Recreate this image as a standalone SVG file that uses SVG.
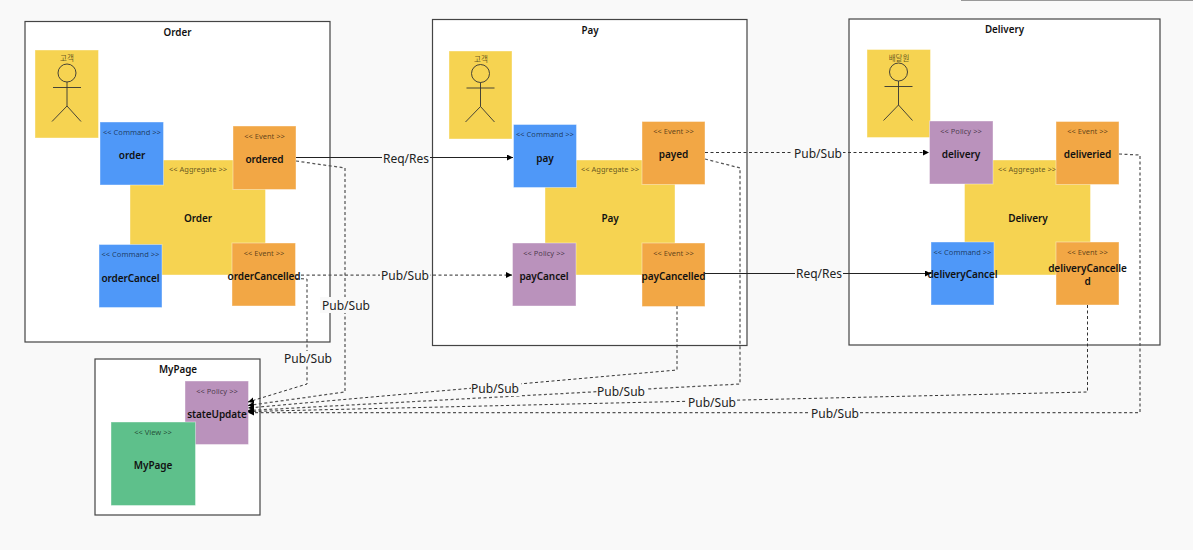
<svg xmlns="http://www.w3.org/2000/svg" width="1193" height="550" viewBox="0 0 1193 550">
<style>
text{font-family:"Noto Sans","Open Sans","Noto Sans CJK KR",sans-serif;text-anchor:middle}
.box{fill:#fff;stroke:#444;stroke-width:1.2}
.title{font-size:9.8px;font-weight:600;fill:#111}
.n{stroke:#fff;stroke-opacity:.4;stroke-width:1}
.agg,.actor{fill:#f6d351}
.cmd{fill:#4f98f8}
.evt{fill:#f2a745}
.pol{fill:#ba92bc}
.view{fill:#5ec08b}
.st{font-size:7.5px;fill:#000;fill-opacity:.62}
.lb{font-size:10px;font-weight:600;fill:#111;letter-spacing:-.08px}
.man{fill:none;stroke:#333;stroke-width:.9}
.c{fill:none;stroke:#222;stroke-width:1}
.d{stroke-dasharray:3 2.5;stroke:#333}
.g{stroke:#555;stroke-width:1.25}
.cl{font-size:12px;fill:#222}
.bg{fill:#f9f9f9}
</style>
<defs>
<marker id="a" markerWidth="7" markerHeight="7" refX="6" refY="3" orient="auto" markerUnits="userSpaceOnUse"><path d="M0 0L6 3L0 6z" fill="#000"/></marker>
<g id="man"><circle cx="0" cy="0" r="9" class="man"/><path class="man" d="M0 9V33M-14 14.500H14M-15 48.500L0 33L14 48.500"/></g>
</defs>
<rect width="1193" height="550" fill="#f9f9f9"/>
<path d="M961 .5H1193" stroke="#999" stroke-width="1"/>
<g id="frame-order"><rect class="box" x="25" y="21.500" width="305" height="320.500"/><text class="title" x="177.500" y="36">Order</text></g>
<g id="frame-pay"><rect class="box" x="432.500" y="19.500" width="314.500" height="326"/><text class="title" x="590" y="34">Pay</text></g>
<g id="frame-delivery"><rect class="box" x="849" y="19" width="311" height="326"/><text class="title" x="1004.500" y="33">Delivery</text></g>
<g id="frame-mypage"><rect class="box" x="95" y="359" width="165" height="156"/><text class="title" x="178" y="373">MyPage</text></g>

<g id="order-actor"><rect class="n actor" x="35" y="50" width="63.500" height="88"/><text class="st" x="67" y="61">고객</text><use href="#man" x="67" y="73"/></g>
<g id="order-aggregate"><rect class="n agg" x="130" y="160" width="135.500" height="115"/><text class="st" x="198" y="172">&lt;&lt; Aggregate &gt;&gt;</text><text class="lb" x="198" y="222">Order</text></g>
<g id="order-command"><rect class="n cmd" x="100" y="122" width="63.500" height="63"/><text class="st" x="132" y="135">&lt;&lt; Command &gt;&gt;</text><text class="lb" x="132" y="158.500">order</text></g>
<g id="ordered"><rect class="n evt" x="233" y="126" width="63" height="63.500"/><text class="st" x="264.500" y="139">&lt;&lt; Event &gt;&gt;</text><text class="lb" x="264.500" y="162.500">ordered</text></g>
<g id="orderCancel"><rect class="n cmd" x="99" y="244.500" width="63" height="63"/><text class="st" x="130.500" y="257">&lt;&lt; Command &gt;&gt;</text><text class="lb" x="130.500" y="281.500">orderCancel</text></g>
<g id="orderCancelled"><rect class="n evt" x="232" y="243" width="63.500" height="63"/><text class="st" x="264" y="256">&lt;&lt; Event &gt;&gt;</text><text class="lb" x="264" y="279.500">orderCancelled</text></g>

<g id="pay-actor"><rect class="n actor" x="449" y="51" width="63" height="88"/><text class="st" x="481" y="62">고객</text><use href="#man" x="480.500" y="73.500"/></g>
<g id="pay-aggregate"><rect class="n agg" x="545" y="160" width="130" height="115"/><text class="st" x="610" y="172">&lt;&lt; Aggregate &gt;&gt;</text><text class="lb" x="610" y="222">Pay</text></g>
<g id="pay"><rect class="n cmd" x="513.500" y="124.500" width="63" height="63"/><text class="st" x="545" y="137">&lt;&lt; Command &gt;&gt;</text><text class="lb" x="545" y="161.500">pay</text></g>
<g id="payed"><rect class="n evt" x="642" y="121.500" width="63" height="63"/><text class="st" x="673.500" y="134">&lt;&lt; Event &gt;&gt;</text><text class="lb" x="673.500" y="157.500">payed</text></g>
<g id="payCancel"><rect class="n pol" x="512.500" y="243" width="63.500" height="63"/><text class="st" x="544" y="256">&lt;&lt; Policy &gt;&gt;</text><text class="lb" x="544" y="279.500">payCancel</text></g>
<g id="payCancelled"><rect class="n evt" x="642" y="243" width="63" height="63.500"/><text class="st" x="673.500" y="256">&lt;&lt; Event &gt;&gt;</text><text class="lb" x="673.500" y="279.500">payCancelled</text></g>

<g id="delivery-aggregate"><rect class="n agg" x="964.500" y="160" width="126" height="115"/><text class="st" x="1027" y="172">&lt;&lt; Aggregate &gt;&gt;</text><text class="lb" x="1028" y="222">Delivery</text></g>
<g id="delivery-actor"><rect class="n actor" x="867" y="49.500" width="63.500" height="88"/><text class="st" x="899" y="61">배달원</text><use href="#man" x="898.500" y="72"/></g>
<g id="delivery"><rect class="n pol" x="929.500" y="121" width="63.500" height="63"/><text class="st" x="961" y="134">&lt;&lt; Policy &gt;&gt;</text><text class="lb" x="961" y="157.500">delivery</text></g>
<g id="deliveried"><rect class="n evt" x="1056" y="121.500" width="63" height="63"/><text class="st" x="1087.500" y="134">&lt;&lt; Event &gt;&gt;</text><text class="lb" x="1087.500" y="157.500">deliveried</text></g>
<g id="deliveryCancel"><rect class="n cmd" x="931" y="242" width="63" height="63"/><text class="st" x="962.500" y="255">&lt;&lt; Command &gt;&gt;</text><text class="lb" x="962.500" y="278">deliveryCancel</text></g>
<g id="deliveryCancelled"><rect class="n evt" x="1056" y="242" width="63" height="63"/><text class="st" x="1087.500" y="255">&lt;&lt; Event &gt;&gt;</text><text class="lb" x="1087.500" y="272">deliveryCancelle</text><text class="lb" x="1087.500" y="285">d</text></g>

<g id="stateUpdate"><rect class="n pol" x="185" y="381" width="63.500" height="63.500"/><text class="st" x="217" y="394">&lt;&lt; Policy &gt;&gt;</text><text class="lb" x="217" y="417.500">stateUpdate</text></g>
<g id="mypage-view"><rect class="n view" x="111" y="422" width="84.500" height="83.500"/><text class="st" x="153" y="435">&lt;&lt; View &gt;&gt;</text><text class="lb" x="153" y="468.500">MyPage</text></g>

<g id="connectors">
<path class="c" d="M296 157.500H513" marker-end="url(#a)"/>
<path class="c d g" d="M295.500 275H512" marker-end="url(#a)"/>
<path class="c d" d="M705 152.500H929" marker-end="url(#a)"/>
<path class="c" d="M705 273.500H931" marker-end="url(#a)"/>
<path class="c d g" d="M296 161L345 168V392L248 405.500" marker-end="url(#a)"/>
<path class="c d" d="M295.500 278.500L307 279V384L248 402" marker-end="url(#a)"/>
<path class="c d g" d="M705 159L740 168V384L248 410.500" marker-end="url(#a)"/>
<path class="c d" d="M677 306V370L248 408" marker-end="url(#a)"/>
<path class="c d" d="M1087.500 305V392L248 411.500" marker-end="url(#a)"/>
<path class="c d g" d="M1119 154L1140 155V412.500H248" marker-end="url(#a)"/>
<g id="connector-labels">
<rect class="bg" x="382" y="151" width="48" height="15"/><text class="cl" x="406" y="163">Req/Res</text>
<rect class="bg" x="380" y="268" width="50" height="15"/><text class="cl" x="405" y="279.500">Pub/Sub</text>
<rect class="bg" x="793" y="146" width="50" height="15"/><text class="cl" x="818" y="157.500">Pub/Sub</text>
<rect class="bg" x="795" y="266" width="48" height="15"/><text class="cl" x="819" y="278">Req/Res</text>
<rect class="bg" x="320" y="297" width="50" height="16"/><text class="cl" x="346" y="310">Pub/Sub</text>
<rect class="bg" x="283" y="351" width="50" height="15"/><text class="cl" x="308" y="363">Pub/Sub</text>
<rect class="bg" x="471" y="381" width="50" height="15"/><text class="cl" x="495" y="393">Pub/Sub</text>
<rect class="bg" x="597" y="384" width="50" height="15"/><text class="cl" x="621" y="396">Pub/Sub</text>
<rect class="bg" x="687" y="395" width="50" height="15"/><text class="cl" x="712" y="407">Pub/Sub</text>
<rect class="bg" x="810" y="406" width="50" height="15"/><text class="cl" x="835" y="418">Pub/Sub</text>
</g>
</g>
</svg>
